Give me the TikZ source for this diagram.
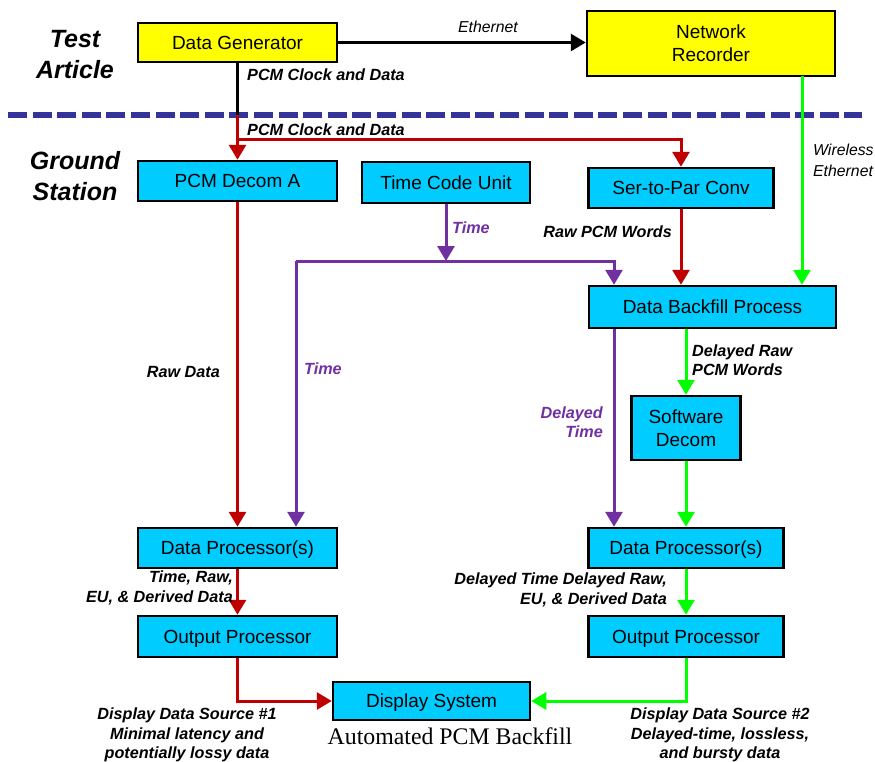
\documentclass[tikz,border=0pt]{standalone}
\usepackage{fontspec}
\setmainfont{Liberation Sans}
\newfontfamily\timesfont{Liberation Serif}
\usepackage{xcolor}
\definecolor{boxcyan}{RGB}{0,204,255}
\definecolor{boxyellow}{RGB}{255,255,0}
\definecolor{pcmred}{RGB}{192,0,0}
\definecolor{netgreen}{RGB}{0,255,0}
\definecolor{timepurple}{RGB}{112,48,160}
\definecolor{dashblue}{RGB}{51,51,153}
\usetikzlibrary{arrows.meta,positioning,calc}
\tikzset{
  boxbase/.style={draw=black,line width=2.5pt,fill=boxcyan,%
    font=\fontsize{19}{23}\selectfont,inner sep=2pt},
  box/.style={boxbase,text height=15pt,text depth=1.4pt},
  twobox/.style={boxbase,align=center},
  lbl/.style={font=\fontsize{16.2}{19.5}\selectfont\bfseries\itshape,inner sep=1pt},
  note/.style={font=\fontsize{15.8}{21}\selectfont\itshape,inner sep=1pt},
  side/.style={font=\fontsize{25}{31}\selectfont\bfseries\itshape,align=center},
  flow/.style={-{Triangle[length=15pt,width=17pt]},line width=3pt},
}
\begin{document}
\begin{tikzpicture}[x=1pt,y=-1pt]
\useasboundingbox (0,0) rectangle (875,761);
% zone labels
\node[side] (ta) at (75,55) {Test\\Article};
\node[side] (gs) at (75,176) {Ground\\Station};
\draw[dashblue,line width=6pt,dash pattern=on 19pt off 5.6pt] (8,115) -- (862,115);

% boxes
\node[box,fill=boxyellow,minimum width=199pt,minimum height=39pt] (gen) at (237.5,42.5) {Data Generator};
\node[twobox,fill=boxyellow,minimum width=248pt,minimum height=65pt] (rec) at (711,43.5) {Network\\Recorder};
\node[box,minimum width=199pt,minimum height=40pt] (decA) at (237.5,181) {PCM Decom A};
\node[box,minimum width=168pt,minimum height=41pt] (tcu) at (446,182.5) {Time Code Unit};
\node[box,minimum width=185pt,minimum height=40pt] (s2p) at (681,188) {Ser-to-Par Conv};
\node[box,minimum width=247pt,minimum height=42pt] (dbp) at (712.5,307) {Data Backfill Process};
\node[twobox,minimum width=109pt,minimum height=64pt] (swd) at (686,428) {Software\\Decom};
\node[box,minimum width=199pt,minimum height=40pt] (dpL) at (237.5,548) {Data Processor(s)};
\node[box,minimum width=199pt,minimum height=41pt] (opL) at (237.5,636.5) {Output Processor};
\node[box,minimum width=197pt,minimum height=38pt] (disp) at (431.5,701) {Display System};
\node[box,minimum width=195pt,minimum height=40pt] (dpR) at (686,548) {Data Processor(s)};
\node[box,minimum width=195pt,minimum height=41pt] (opR) at (686,636.5) {Output Processor};

% junction points
\coordinate (cut) at (237.5,115);
\coordinate (br) at (237.5,139);
\coordinate (tbus) at (446,261);
\coordinate (tl) at (296,261);
\coordinate (dcol) at (614,261);
\coordinate (wl) at (802,76);

% test article links
\draw[flow] (gen.east) -- (gen.east -| rec.west);
\node[note] (eth) at (488,27) {Ethernet};
\draw[line width=3pt] (gen.south) -- (cut);
\node[lbl,anchor=west] (pcm1) at (246,75) {PCM Clock and Data};

% PCM path
\draw[flow,pcmred] (cut) -- (decA.north);
\draw[flow,pcmred] (br) -| (s2p.north);
\node[lbl,anchor=west] (pcm2) at (246,130) {PCM Clock and Data};
\draw[flow,pcmred] (s2p.south) -- (s2p.south |- dbp.north);
\node[lbl,anchor=east] (rpw) at (673,232) {Raw PCM Words};
\draw[flow,pcmred] (decA.south) -- (dpL.north);
\node[lbl,anchor=east] (raw) at (221,372) {Raw Data};
\draw[flow,pcmred] (dpL.south) -- (opL.north);
\node[lbl,anchor=east,align=right] (dL) at (234,588) {Time, Raw,\\EU, \& Derived Data};
\draw[flow,pcmred] (opL.south) |- (disp.west);
\node[lbl,align=center] (src1) at (187,735) {Display Data Source \#1\\Minimal latency and\\potentially lossy data};

% wireless path
\draw[flow,netgreen] (wl) -- (wl |- dbp.north);
\node[note,anchor=west,align=left] (wless) at (812,160) {Wireless\\Ethernet};
\draw[flow,netgreen] (dbp.south -| swd) -- (swd.north);
\node[lbl,anchor=west,align=left] (drw) at (691,360) {Delayed Raw\\PCM Words};
\draw[flow,netgreen] (swd.south) -- (dpR.north);
\draw[flow,netgreen] (dpR.south) -- (opR.north);
\node[lbl,anchor=east,align=right] (dR) at (668,590) {Delayed Time Delayed Raw,\\EU, \& Derived Data};
\draw[flow,netgreen] (opR.south) |- (disp.east);
\node[lbl,align=center] (src2) at (720,735) {Display Data Source \#2\\Delayed-time, lossless,\\and bursty data};

% time path
\draw[flow,timepurple] (tcu.south) -- (tbus);
\node[lbl,timepurple,anchor=west] (t1) at (451,228) {Time};
\draw[flow,timepurple] (tl) -| (dbp.north -| dcol);
\draw[flow,timepurple] (tl) -- (tl |- dpL.north);
\node[lbl,timepurple,anchor=west] (t2) at (303,369) {Time};
\draw[flow,timepurple] (dbp.south -| dcol) -- (dpR.north -| dcol);
\node[lbl,timepurple,anchor=east,align=right] (dt) at (604,422) {Delayed\\Time};

\node[font=\fontsize{23.8}{27}\selectfont\timesfont] (cap) at (450,736) {Automated PCM Backfill};
\end{tikzpicture}
\end{document}
